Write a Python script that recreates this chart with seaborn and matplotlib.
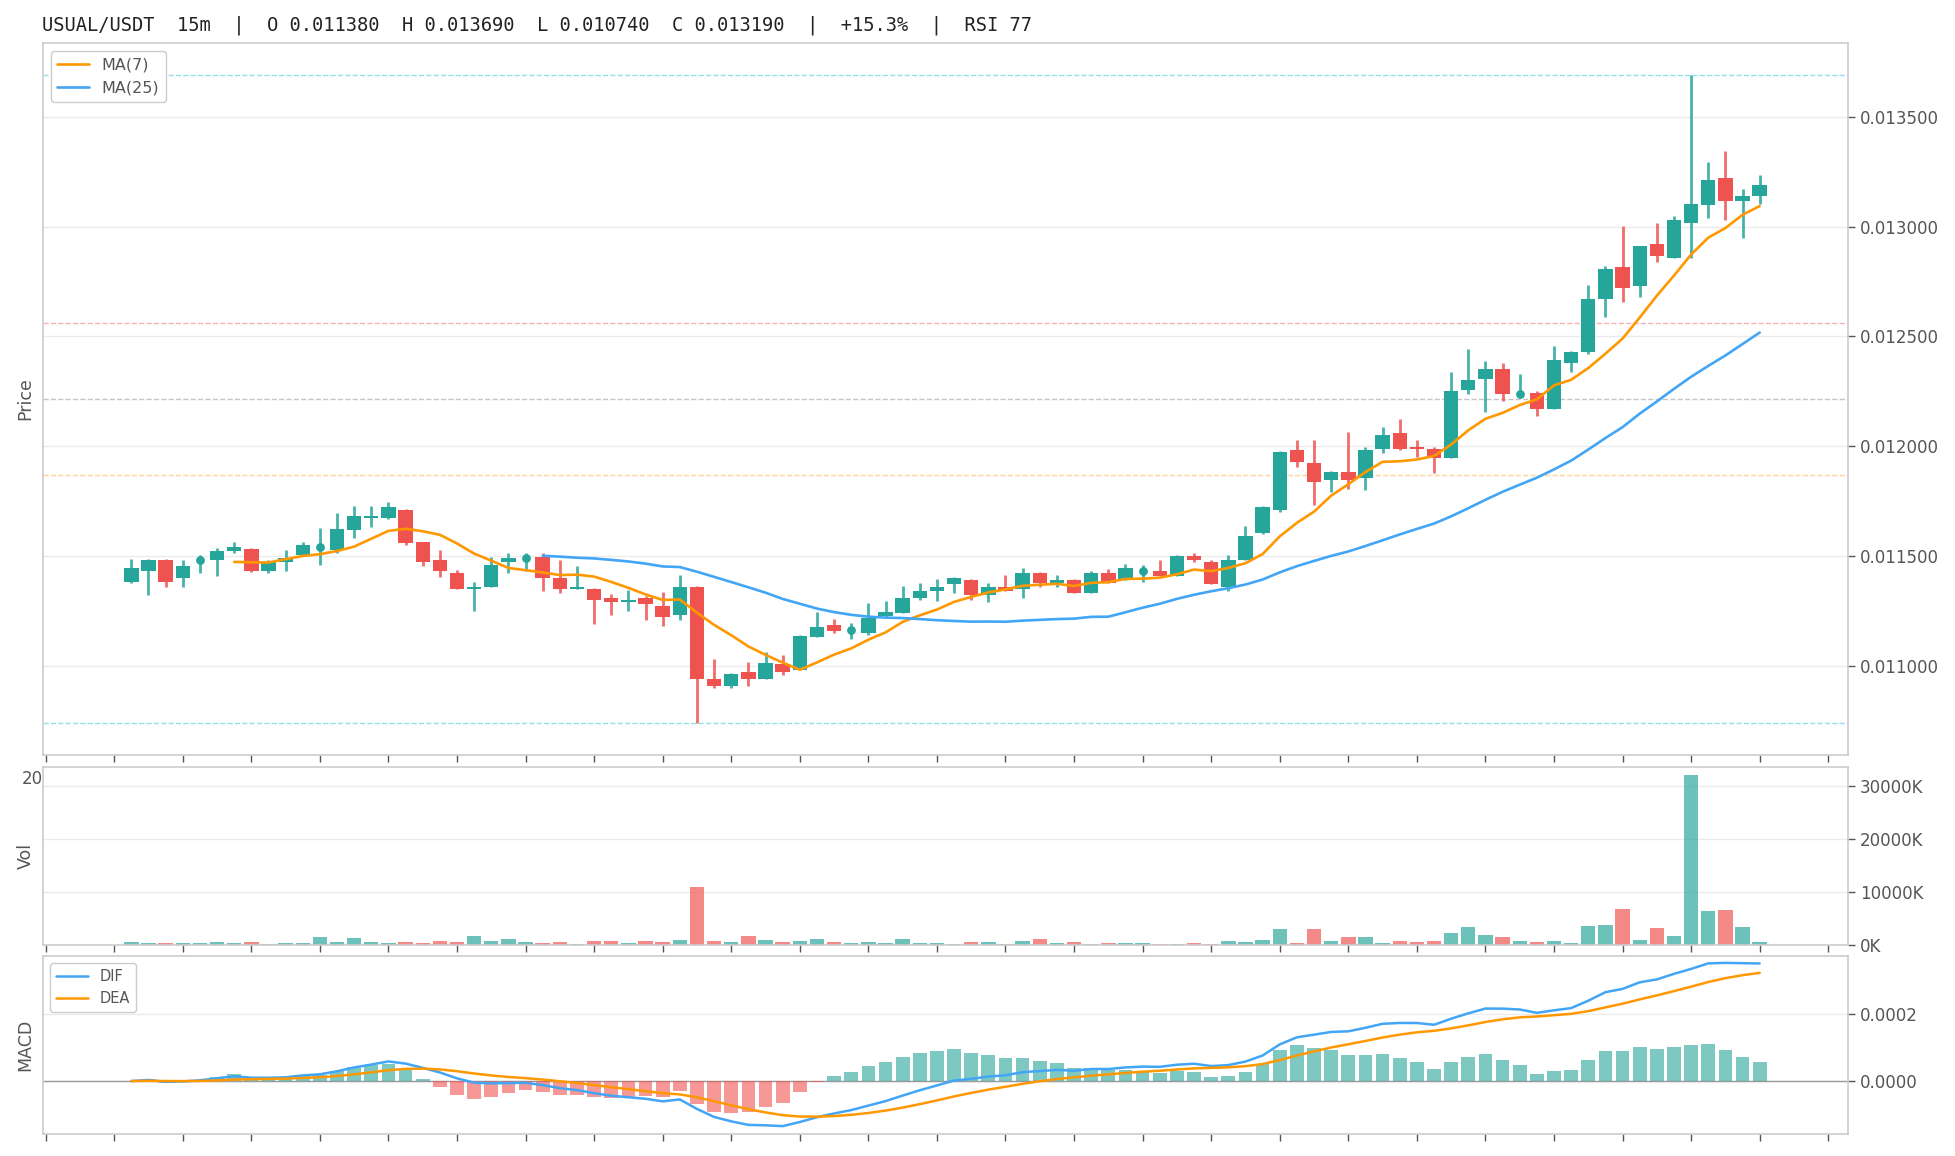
import matplotlib
matplotlib.use("Agg")
import matplotlib.pyplot as plt
from matplotlib.ticker import FuncFormatter, MultipleLocator
import numpy as np
import pandas as pd
import seaborn as sns

# 15m candles
opens = [0.011380, 0.011431, 0.011483, 0.011399, 0.011483, 0.011479, 0.011521, 0.011533, 0.011431, 0.011471,
         0.011502, 0.011541, 0.011529, 0.011619, 0.011671, 0.011671, 0.011710, 0.011561, 0.011482, 0.011423,
         0.011347, 0.011356, 0.011470, 0.011489, 0.011497, 0.011400, 0.011347, 0.011350, 0.011310, 0.011289,
         0.011310, 0.011273, 0.011230, 0.011360, 0.010941, 0.010908, 0.010973, 0.010940, 0.011009, 0.010980,
         0.011130, 0.011183, 0.011160, 0.011148, 0.011227, 0.011239, 0.011307, 0.011338, 0.011372, 0.011391,
         0.011322, 0.011356, 0.011347, 0.011423, 0.011376, 0.011392, 0.011331, 0.011424, 0.011390, 0.011432,
         0.011432, 0.011408, 0.011498, 0.011474, 0.011360, 0.011480, 0.011606, 0.011707, 0.011982, 0.011923,
         0.011847, 0.011882, 0.011857, 0.011986, 0.012058, 0.011997, 0.011989, 0.011947, 0.012255, 0.012306,
         0.012350, 0.012239, 0.012241, 0.012170, 0.012379, 0.012427, 0.012670, 0.012818, 0.012729, 0.012920,
         0.012858, 0.013017, 0.013098, 0.013220, 0.013117, 0.013139]
highs = [0.011488, 0.011488, 0.011488, 0.011479, 0.011505, 0.011536, 0.011565, 0.011538, 0.011479, 0.011529,
         0.011565, 0.011627, 0.011696, 0.011728, 0.011728, 0.011746, 0.011715, 0.011564, 0.011527, 0.011437,
         0.011379, 0.011494, 0.011512, 0.011512, 0.011512, 0.011479, 0.011455, 0.011353, 0.011328, 0.011346,
         0.011316, 0.011337, 0.011414, 0.011364, 0.011029, 0.010965, 0.011015, 0.011063, 0.011047, 0.011139,
         0.011246, 0.011214, 0.011195, 0.011287, 0.011296, 0.011364, 0.011378, 0.011396, 0.011405, 0.011396,
         0.011378, 0.011414, 0.011446, 0.011427, 0.011414, 0.011396, 0.011429, 0.011438, 0.011465, 0.011458,
         0.011479, 0.011506, 0.011514, 0.011479, 0.011506, 0.011638, 0.011728, 0.011977, 0.012027, 0.012027,
         0.011887, 0.012063, 0.011996, 0.012086, 0.012126, 0.012027, 0.011994, 0.012336, 0.012445, 0.012386,
         0.012377, 0.012327, 0.012253, 0.012455, 0.012436, 0.012735, 0.012821, 0.013005, 0.012914, 0.013015,
         0.013047, 0.013690, 0.013297, 0.013347, 0.013174, 0.013238]
lows = [0.011375, 0.011322, 0.011358, 0.011358, 0.011421, 0.011408, 0.011511, 0.011428, 0.011421, 0.011431,
        0.011500, 0.011458, 0.011511, 0.011580, 0.011630, 0.011668, 0.011548, 0.011456, 0.011406, 0.011347,
        0.011248, 0.011356, 0.011421, 0.011429, 0.011338, 0.011331, 0.011347, 0.011190, 0.011230, 0.011248,
        0.011207, 0.011180, 0.011207, 0.010740, 0.010899, 0.010899, 0.010908, 0.010940, 0.010958, 0.010980,
        0.011130, 0.011148, 0.011122, 0.011139, 0.011216, 0.011239, 0.011298, 0.011296, 0.011331, 0.011298,
        0.011289, 0.011340, 0.011307, 0.011356, 0.011356, 0.011330, 0.011331, 0.011378, 0.011390, 0.011381,
        0.011408, 0.011408, 0.011471, 0.011372, 0.011340, 0.011480, 0.011598, 0.011698, 0.011906, 0.011730,
        0.011789, 0.011807, 0.011798, 0.011968, 0.011982, 0.011952, 0.011879, 0.011947, 0.012239, 0.012156,
        0.012206, 0.012224, 0.012138, 0.012170, 0.012338, 0.012418, 0.012588, 0.012656, 0.012679, 0.012840,
        0.012858, 0.012858, 0.013039, 0.013030, 0.012949, 0.013105]
closes = [0.011443, 0.011483, 0.011381, 0.011452, 0.011483, 0.011524, 0.011542, 0.011431, 0.011474, 0.011491,
          0.011551, 0.011541, 0.011624, 0.011683, 0.011683, 0.011724, 0.011559, 0.011471, 0.011429, 0.011347,
          0.011360, 0.011459, 0.011489, 0.011489, 0.011397, 0.011347, 0.011360, 0.011298, 0.011289, 0.011300,
          0.011280, 0.011221, 0.011360, 0.010940, 0.010908, 0.010961, 0.010941, 0.011011, 0.010973, 0.011133,
          0.011174, 0.011157, 0.011160, 0.011218, 0.011242, 0.011310, 0.011341, 0.011360, 0.011400, 0.011322,
          0.011358, 0.011340, 0.011423, 0.011376, 0.011390, 0.011330, 0.011424, 0.011378, 0.011443, 0.011432,
          0.011408, 0.011498, 0.011480, 0.011372, 0.011483, 0.011592, 0.011724, 0.011973, 0.011929, 0.011838,
          0.011882, 0.011847, 0.011982, 0.012050, 0.011989, 0.011988, 0.011947, 0.012250, 0.012300, 0.012350,
          0.012238, 0.012239, 0.012170, 0.012391, 0.012430, 0.012673, 0.012809, 0.012720, 0.012910, 0.012867,
          0.013033, 0.013102, 0.013211, 0.013117, 0.013142, 0.013190]
volume_k = [570, 380, 380, 380, 380, 570, 380, 570, 190, 380,
            380, 1520, 570, 1330, 570, 380, 570, 380, 760, 570,
            1710, 760, 1140, 570, 380, 570, 190, 760, 760, 380,
            760, 570, 950, 11010, 760, 570, 1710, 950, 570, 760,
            1140, 570, 380, 570, 380, 1140, 380, 380, 190, 570,
            570, 190, 760, 1140, 380, 570, 190, 380, 380, 380,
            190, 190, 380, 190, 760, 570, 950, 3040, 380, 3040,
            760, 1520, 1520, 380, 760, 570, 760, 2280, 3420, 1900,
            1520, 760, 570, 760, 380, 3610, 3800, 6840, 950, 3230,
            1710, 32000, 6460, 6650, 3420, 570]

# hourly tick labels (hidden under the lower panels, only the first peeks out)
hour_labels = [f"{(20 + k) % 24:02d}:00" for k in range(26)] + [""]
fib_levels = [0.0, 0.382, 0.5, 0.618, 1.0]
fib_colors = ["#26c6da", "#ef5350", "#9e9e9e", "#ff9800", "#26c6da"]
fib_alphas = [0.5, 0.45, 0.6, 0.4, 0.5]
title = "USUAL/USDT  15m  |  O 0.011380  H 0.013690  L 0.010740  C 0.013190  |  +15.3%  |  RSI 77"

UP = "#26a69a"
DOWN = "#ef5350"
ORANGE = "#ff9800"
BLUE = "#42a5f5"

df = pd.DataFrame({"open": opens, "high": highs, "low": lows, "close": closes, "vol": volume_k})
df["x"] = np.arange(len(df))
df["up"] = df["close"] >= df["open"]
df["ma7"] = df["close"].rolling(7).mean()
df["ma25"] = df["close"].rolling(25).mean()
ema12 = df["close"].ewm(span=12, adjust=False).mean()
ema26 = df["close"].ewm(span=26, adjust=False).mean()
df["dif"] = ema12 - ema26
df["dea"] = df["dif"].ewm(span=9, adjust=False).mean()
df["hist"] = 2 * (df["dif"] - df["dea"])

sns.set_theme(style="whitegrid", rc={
    "axes.edgecolor": "#cccccc",
    "axes.linewidth": 1.2,
    "grid.color": "#ebebeb",
    "grid.linewidth": 1.0,
    "text.color": "#555555",
    "axes.labelcolor": "#555555",
    "xtick.color": "#555555",
    "ytick.color": "#555555",
})
plt.rcParams["font.family"] = ["DejaVu Sans"]

fig = plt.figure(figsize=(19.56, 11.56), dpi=100)
left, width = 0.02183, 0.92311
ax_p = fig.add_axes([left, 0.34689, width, 0.61592])
ax_v = fig.add_axes([left, 0.18228, width, 0.15450])
ax_m = fig.add_axes([left, 0.01877, width, 0.15450])

colors = np.where(df["up"], UP, DOWN)
xlim = (-5.17, 100.17)
xticks = [-5 + 4 * k for k in range(27)]

# --- price panel ---
body_lo = np.minimum(df["open"], df["close"])
body_h = (df["close"] - df["open"]).abs()
ax_p.vlines(df["x"], df["low"], df["high"], colors=colors, linewidth=2.0, alpha=0.85, zorder=2)
ax_p.bar(df["x"], body_h, bottom=body_lo, width=0.84, color=colors, linewidth=0, zorder=3)
doji = df[body_h < 1e-9]
ax_p.scatter(doji["x"], doji["close"], s=40, color=UP, zorder=4, linewidths=0)
sns.lineplot(data=df, x="x", y="ma7", ax=ax_p, color=ORANGE, linewidth=1.9, label="MA(7)", zorder=5)
sns.lineplot(data=df, x="x", y="ma25", ax=ax_p, color=BLUE, linewidth=1.9, label="MA(25)", zorder=5)

hi, lo = max(highs), min(lows)
rng = hi - lo
for lvl, c, a in zip(fib_levels, fib_colors, fib_alphas):
    ax_p.axhline(hi - lvl * rng, color=c, alpha=a, linestyle="--", linewidth=1.0, zorder=1)

ax_p.set_ylim(lo - 0.05 * rng, hi + 0.05 * rng)
ax_p.yaxis.set_major_locator(MultipleLocator(0.0005))
ax_p.yaxis.set_major_formatter(FuncFormatter(lambda v, _: f"{v:.6f}"))
ax_p.set_ylabel("Price", fontsize=12.5, labelpad=6)
ax_p.legend(loc="upper left", fontsize=11.5, frameon=True, edgecolor="#cccccc", framealpha=1)

# --- volume panel ---
ax_v.bar(df["x"], df["vol"], width=0.84, color=colors, alpha=0.68, linewidth=0, zorder=2)
ax_v.set_ylim(0, max(volume_k) * 1.05)
ax_v.yaxis.set_major_locator(MultipleLocator(10000))
ax_v.yaxis.set_major_formatter(FuncFormatter(lambda v, _: f"{v:.0f}K"))
ax_v.set_ylabel("Vol", fontsize=12.5, labelpad=6)

# --- MACD panel ---
hist_colors = np.where(df["hist"] >= 0, UP, DOWN)
ax_m.bar(df["x"], df["hist"], width=0.8, color=hist_colors, alpha=0.6, linewidth=0, zorder=2)
ax_m.axhline(0, color="#999999", linewidth=1.0, zorder=1)
sns.lineplot(data=df, x="x", y="dif", ax=ax_m, color=BLUE, linewidth=1.8, label="DIF", zorder=4)
sns.lineplot(data=df, x="x", y="dea", ax=ax_m, color=ORANGE, linewidth=1.8, label="DEA", zorder=4)
ax_m.set_ylim(-0.000159, 0.000374)
ax_m.yaxis.set_major_locator(MultipleLocator(0.0002))
ax_m.yaxis.set_major_formatter(FuncFormatter(lambda v, _: f"{v:.4f}"))
ax_m.set_ylabel("MACD", fontsize=12.5, labelpad=6)
ax_m.legend(loc="upper left", fontsize=10.5, handlelength=2.2, frameon=True,
            edgecolor="#cccccc", framealpha=1)

for ax in (ax_p, ax_v, ax_m):
    ax.set_xlim(*xlim)
    ax.set_xticks(xticks)
    ax.set_xlabel("")
    ax.grid(axis="x", visible=False)
    ax.grid(axis="y", visible=True)
    ax.yaxis.tick_right()
    ax.yaxis.set_label_position("left")
    ax.tick_params(axis="x", bottom=True, length=5, width=1, pad=6, labelsize=12)
    ax.tick_params(axis="y", right=True, left=False, length=5, width=1, labelsize=12)
    for s in ax.spines.values():
        s.set_color("#cccccc")

ax_p.set_xticklabels(hour_labels)
ax_v.tick_params(axis="x", labelbottom=False)
ax_m.tick_params(axis="x", labelbottom=False)

fig.text(0.0215, 1 - 25 / 1156, title, family="DejaVu Sans Mono", fontsize=13.5,
         color="#222222", ha="left", va="center")

fig.savefig("out.png", dpi=100)
